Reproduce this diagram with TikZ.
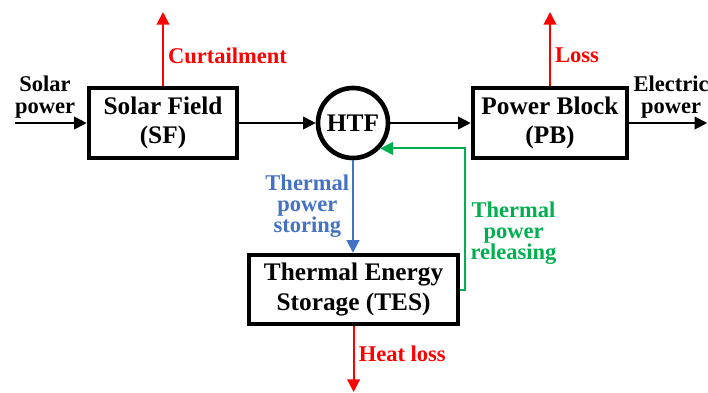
\documentclass[tikz,border=0pt]{standalone}
\usepackage{fontspec}
\setmainfont{Liberation Serif}
\usetikzlibrary{arrows.meta,positioning}
\definecolor{lossred}{HTML}{FF0000}
\definecolor{storeblue}{HTML}{4472C4}
\definecolor{releasegreen}{HTML}{00B050}

\begin{document}
\begin{tikzpicture}[
  blk/.style={draw, line width=3.3pt, fill=white, align=center, font=\fontsize{18}{21}\selectfont\bfseries, inner sep=0pt},
  arr/.style={-{Triangle[length=9pt,width=9pt]}, line width=1.4pt},
  lbl/.style={align=center, font=\fontsize{16}{15}\selectfont\bfseries, inner sep=3pt}
]
  \useasboundingbox (0,0) rectangle (17.7,-9.8);
  % blocks
  \node[blk, minimum width=3.7cm, minimum height=1.75cm] (sf) at (4.075,-3.075) {Solar Field\\(SF)};
  \node[blk, circle, minimum size=1.75cm] (htf) at (8.825,-3.075) {HTF};
  \node[blk, minimum width=3.85cm, minimum height=1.75cm] (pb) at (13.75,-3.075) {Power Block\\(PB)};
  \node[blk, minimum width=5.225cm, minimum height=1.725cm] (tes) at (8.84,-7.24) {Thermal Energy\\Storage (TES)};
  % free ends
  \coordinate (sun) at (0.375,-3.075);
  \coordinate (elec) at (17.68,-3.075);
  \coordinate (curt) at (4.075,-0.3);
  \coordinate (loss) at (13.75,-0.3);
  \coordinate (heat) at (8.84,-9.8);
  % main flow
  \draw[arr] (sun) -- node[lbl, above, pos=0.42] {Solar\\power} (sf);
  \draw[arr] (sf) -- (htf);
  \draw[arr] (htf) -- (pb);
  \draw[arr] (pb) -- node[lbl, above, xshift=2pt] {Electric\\power} (elec);
  % losses
  \draw[arr, lossred] (sf) -- node[lbl, right, pos=0.4] {Curtailment} (curt);
  \draw[arr, lossred] (pb) -- node[lbl, right, pos=0.41] {Loss} (loss);
  \draw[arr, lossred] (tes) -- node[lbl, right, pos=0.42] {Heat loss} (heat);
  % storage
  \draw[arr, storeblue] (htf.south) -- node[lbl, left, inner sep=2pt] {Thermal\\power\\storing} (htf.south |- tes.north);
  \draw[arr, releasegreen] (tes.east) -- ++(0.125,0) |- node[lbl, right, pos=0.2] {Thermal\\power\\releasing} (htf.-43);
\end{tikzpicture}
\end{document}
